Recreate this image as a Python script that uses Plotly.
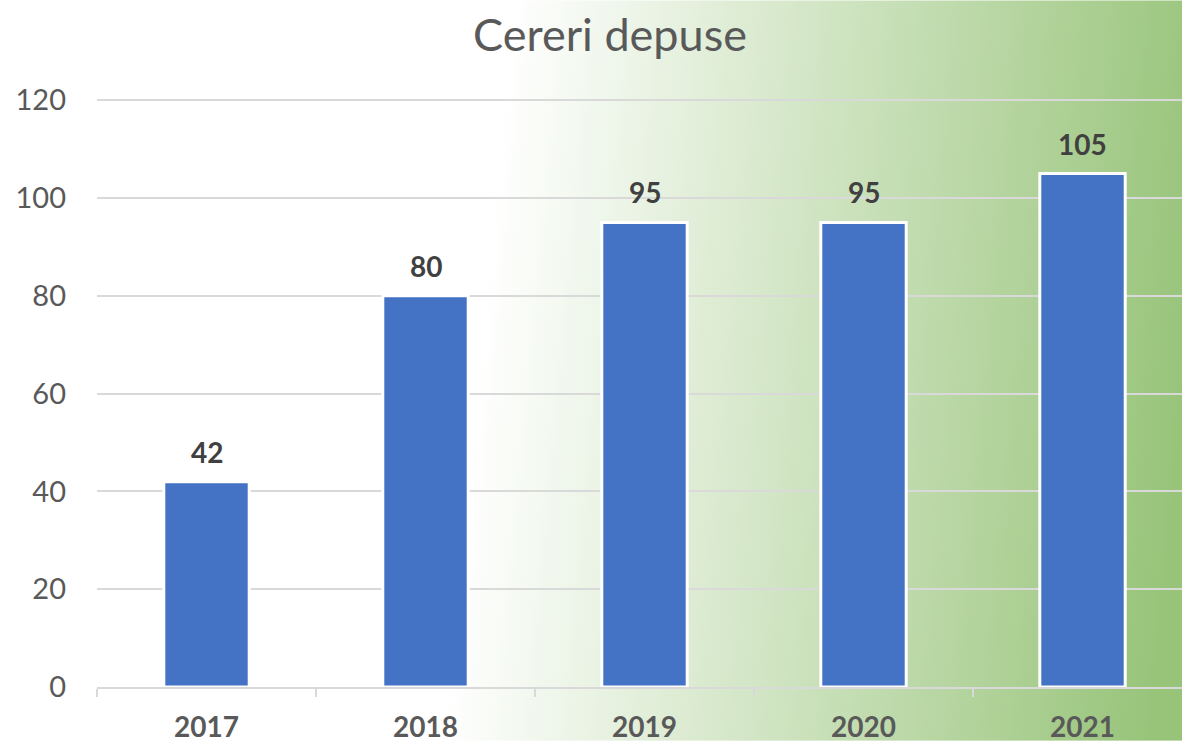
import base64
import plotly.graph_objects as go

years = ["2017", "2018", "2019", "2020", "2021"]
values = [42, 80, 95, 95, 105]
y_ticks = [0, 20, 40, 60, 80, 100, 120]
title_text = "Cereri depuse"

W, H = 1182, 743
ML, MR, MT, MB = 97, 0, 99, 54
PW, PH = W - ML - MR, H - MT - MB

svg = f'''<svg xmlns="http://www.w3.org/2000/svg" width="{W}" height="{H}" viewBox="0 0 {W} {H}" preserveAspectRatio="none">
<defs><linearGradient id="g" gradientUnits="userSpaceOnUse" x1="480" y1="340" x2="1182" y2="406">
<stop offset="0" stop-color="#ffffff"/><stop offset="1" stop-color="#98c47a"/></linearGradient></defs>
<rect x="0" y="0" width="{W}" height="{H}" fill="url(#g)"/></svg>'''
src = "data:image/svg+xml;base64," + base64.b64encode(svg.encode()).decode()

FONT = "Lato"
fig = go.Figure()
fig.add_trace(go.Bar(
    x=years, y=values, width=0.39,
    marker=dict(color="#4472C4", line=dict(color="white", width=3)),
    hoverinfo="skip",
))
for i, v in enumerate(values):
    fig.add_annotation(x=i, y=v, xref="x", yref="y", text=f"<b>{v}</b>", showarrow=False,
                       yanchor="middle", yshift=30,
                       font=dict(family=FONT, size=28, color="#404040"))

fig.update_layout(
    width=W, height=H,
    margin=dict(l=ML, r=MR, t=MT, b=MB),
    paper_bgcolor="white", plot_bgcolor="rgba(0,0,0,0)",
    showlegend=False,
    title=dict(text=title_text, x=610 / W, xanchor="center", xref="container",
               y=1 - 35 / H, yanchor="middle", yref="container",
               font=dict(family=FONT, size=45, color="#595959")),
    images=[dict(source=src, xref="paper", yref="paper",
                 x=-ML / PW, y=(PH + MT) / PH, sizex=W / PW, sizey=H / PH,
                 xanchor="left", yanchor="top", sizing="stretch", layer="below")],
)
fig.update_xaxes(
    type="category", range=[-0.5, -0.5 + PW / 219.0],
    showgrid=False, showline=True, linecolor="#D9D9D9", linewidth=2,
    ticks="outside", tickson="boundaries", ticklen=8, tickcolor="#D9D9D9", tickwidth=2,
    tickfont=dict(family=FONT, size=28, color="#595959", weight="bold"),
    ticklabelstandoff=14,
)
fig.update_yaxes(
    range=[0, 120.25], tickvals=y_ticks, showgrid=True, gridcolor="#D9D9D9", gridwidth=2,
    zeroline=False, showline=False, ticks="",
    tickfont=dict(family=FONT, size=29, color="#595959"),
    ticklabelstandoff=30,
)
fig.write_html("out.html", config={"displayModeBar": False},
               post_script="document.body.style.margin='0';document.body.style.overflow='hidden';")
